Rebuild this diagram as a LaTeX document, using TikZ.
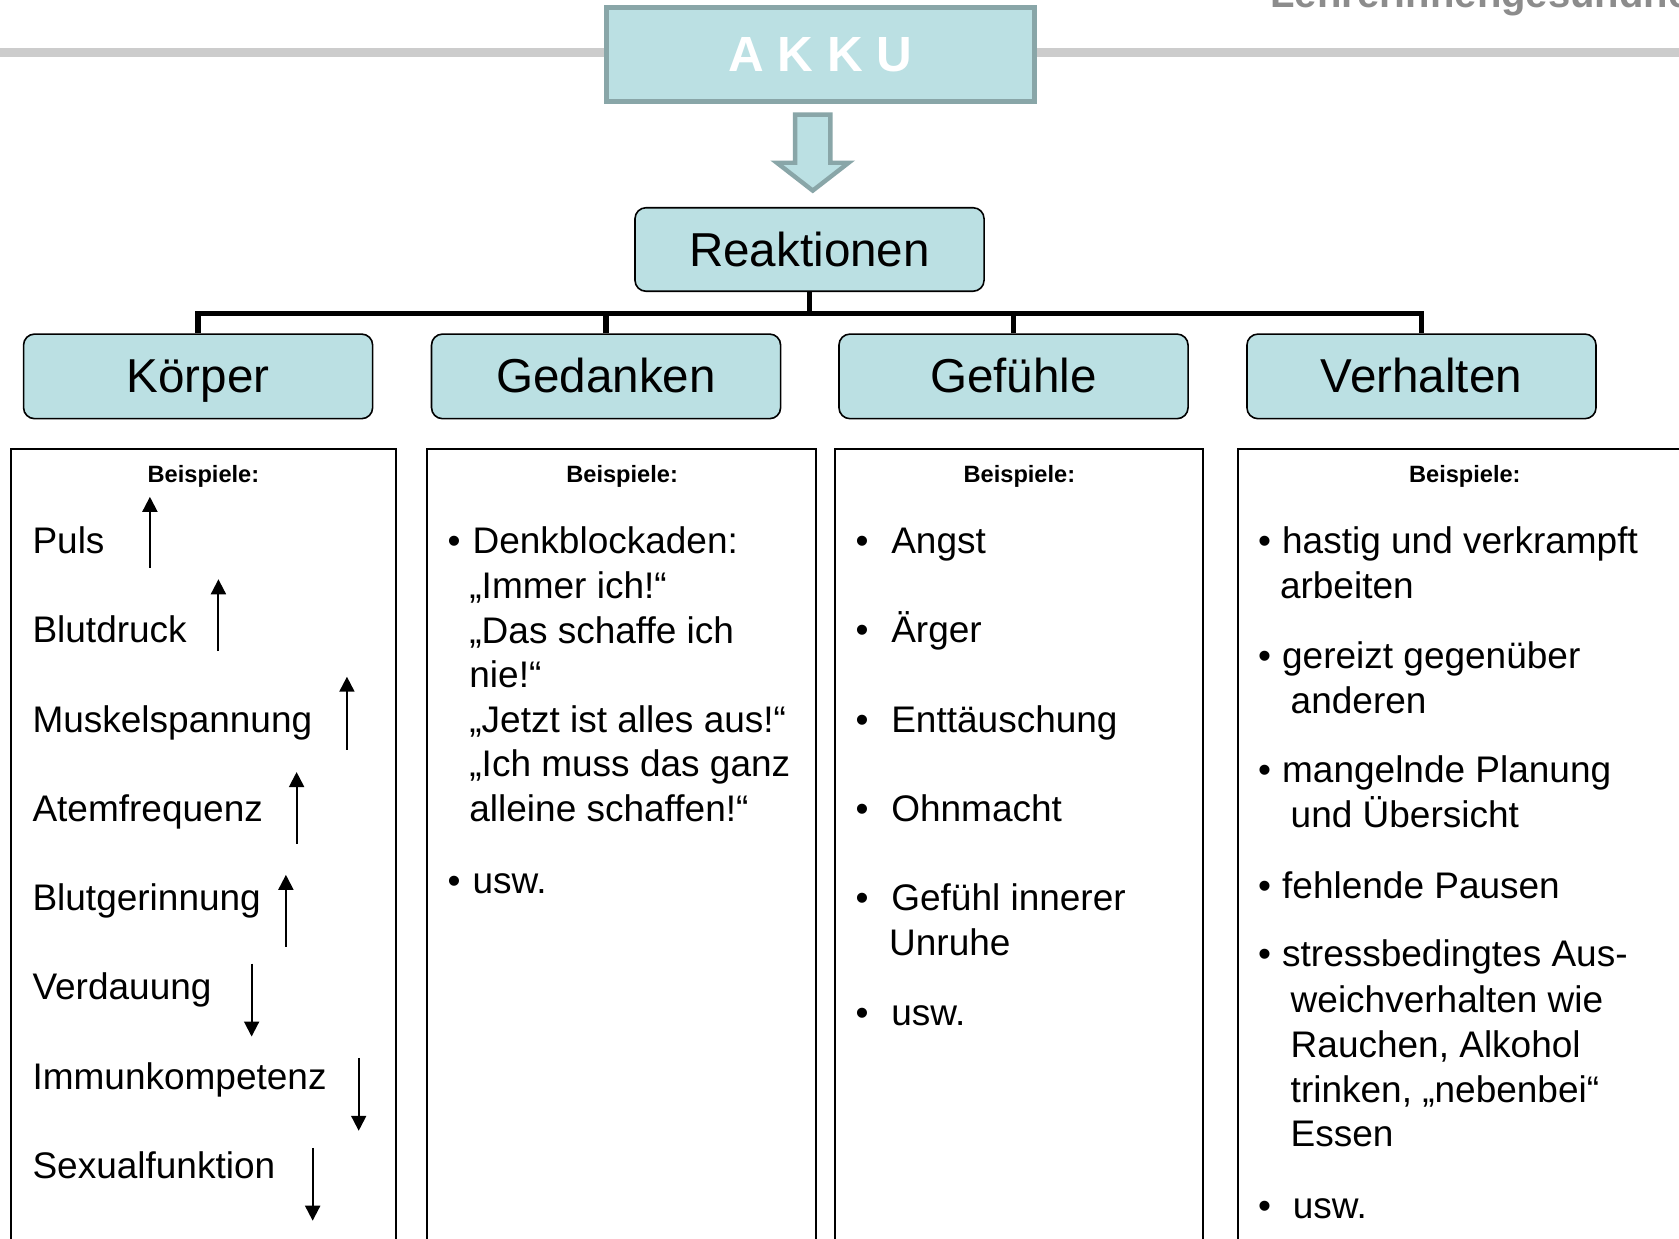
\documentclass[tikz,border=0pt]{standalone}
\usepackage{fontspec}
\setmainfont{Liberation Sans}
\usetikzlibrary{arrows.meta}
\definecolor{boxfill}{RGB}{187,224,227}
\definecolor{akkuborder}{RGB}{137,166,168}
\definecolor{greyline}{RGB}{204,204,204}
\definecolor{titlegrey}{RGB}{140,140,140}
\def\U{0.5354pt}
\begin{document}
\begin{tikzpicture}[x=0.5354pt,y=-0.5354pt,
 hdr/.style={draw=black,line width=0.8pt,fill=boxfill,rounded corners=5.5pt,minimum width=326*\U,minimum height=79*\U,inner sep=0pt,font=\fontsize{23.8}{28}\selectfont,text height=17pt,text depth=0.4pt},
 conn/.style={line width=2.7pt},
 panel/.style={draw=black,line width=1pt},
 bsp/.style={font=\bfseries\fontsize{11.8}{14}\selectfont,anchor=base,inner sep=0pt},
 item/.style={font=\fontsize{18.5}{22}\selectfont,anchor=base west,inner sep=0pt},
 bul/.style={font=\fontsize{18.5}{22}\selectfont,anchor=base,inner sep=0pt},
 updown/.style={line width=1pt,-{Triangle[width=7.5pt,length=7.5pt]}}
]
\useasboundingbox (0,0) rectangle (1568,1157);
\clip (0,0) rectangle (1568,1157);
\fill[white] (0,0) rectangle (1568,1157);
% header line and title
\draw[greyline,line width=4.5pt] (0,49) -- (1568,49);
\node[anchor=base west,inner sep=0pt,text=titlegrey,font=\bfseries\fontsize{20}{24}\selectfont] (title) at (1186,7) {Lehrerinnengesundheit};
% AKKU
\node[draw=akkuborder,line width=2.5pt,fill=boxfill,minimum width=400*\U,minimum height=88*\U,inner sep=0pt,text=white,font=\bfseries\fontsize{24.7}{30}\selectfont] (akku) at (766,51) {A K K U};
% block arrow
\draw[draw=akkuborder,line width=2.2pt,fill=boxfill,line join=miter] (742.5,107) -- (775.5,107) -- (775.5,152) -- (792.5,152) -- (759,178) -- (725.5,152) -- (742.5,152) -- cycle;
% Reaktionen and categories
\node[hdr,minimum height=78*\U] (reak) at (756,233) {Reaktionen};
\node[hdr] (koerper) at (185,351.5) {Körper};
\node[hdr] (gedanken) at (566,351.5) {Gedanken};
\node[hdr] (gefuehle) at (946.5,351.5) {Gefühle};
\node[hdr] (verhalten) at (1327.5,351.5) {Verhalten};
\draw[conn] (reak.south) -- ++(0,20) coordinate (bus);
\draw[conn] (koerper.north) |- (bus) -| (verhalten.north);
\draw[conn] (gedanken.north) -- (gedanken.north |- bus);
\draw[conn] (gefuehle.north) -- (gefuehle.north |- bus);
% panels
\draw[panel] (10,419) rectangle (370,1220);
\draw[panel] (399,419) rectangle (762,1220);
\draw[panel] (780,419) rectangle (1123,1220);
\draw[panel] (1156,419) rectangle (1620,1220);
\node[bsp] (b1) at (190,451) {Beispiele:};
\node[bsp] (b2) at (581,451) {Beispiele:};
\node[bsp] (b3) at (952,451) {Beispiele:};
\node[bsp] (b4) at (1368,451) {Beispiele:};
% Koerper
\node[item] (k1) at (30,517) {Puls};
\node[item] (k2) at (30,600) {Blutdruck};
\node[item] (k3) at (30,684) {Muskelspannung};
\node[item] (k4) at (30,767) {Atemfrequenz};
\node[item] (k5) at (30,850) {Blutgerinnung};
\node[item] (k6) at (30,933) {Verdauung};
\node[item] (k7) at (30,1017) {Immunkompetenz};
\node[item] (k8) at (30,1101) {Sexualfunktion};
\draw[updown] (140,530) -- (140,464);
\draw[updown] (204,608) -- (204,541);
\draw[updown] (324,700) -- (324,632);
\draw[updown] (277,788) -- (277,721);
\draw[updown] (267,884) -- (267,817);
\draw[updown] (235,900) -- (235,968);
\draw[updown] (335,988) -- (335,1056);
\draw[updown] (292,1072) -- (292,1140);
% Gedanken
\node[bul] (gb1) at (424,517) {•};
\node[item] (g1) at (441,517) {Denkblockaden:};
\node[item] (g2) at (438,559) {„Immer ich!“};
\node[item] (g3) at (438,601) {„Das schaffe ich};
\node[item] (g4) at (438,642) {nie!“};
\node[item] (g5) at (438,684) {„Jetzt ist alles aus!“};
\node[item] (g6) at (438,725) {„Ich muss das ganz};
\node[item] (g7) at (438,767) {alleine schaffen!“};
\node[bul] (gb2) at (424,834) {•};
\node[item] (g8) at (441,834) {usw.};
% Gefuehle
\node[bul] (fb1) at (805,517) {•};
\node[item] (f1) at (832,517) {Angst};
\node[bul] (fb2) at (805,600) {•};
\node[item] (f2) at (832,600) {Ärger};
\node[bul] (fb3) at (805,684) {•};
\node[item] (f3) at (832,684) {Enttäuschung};
\node[bul] (fb4) at (805,767) {•};
\node[item] (f4) at (832,767) {Ohnmacht};
\node[bul] (fb5) at (805,850) {•};
\node[item] (f5) at (832,850) {Gefühl innerer};
\node[item] (f6) at (830,892) {Unruhe};
\node[bul] (fb6) at (805,958) {•};
\node[item] (f7) at (832,958) {usw.};
% Verhalten
\node[bul] (vb1) at (1181,517) {•};
\node[item] (v1) at (1197,517) {hastig und verkrampft};
\node[item] (v2) at (1195,559) {arbeiten};
\node[bul] (vb2) at (1181,624) {•};
\node[item] (v3) at (1197,624) {gereizt gegenüber};
\node[item] (v4) at (1205,666) {anderen};
\node[bul] (vb3) at (1181,731) {•};
\node[item] (v5) at (1197,731) {mangelnde Planung};
\node[item] (v6) at (1205,773) {und Übersicht};
\node[bul] (vb4) at (1181,839) {•};
\node[item] (v7) at (1197,839) {fehlende Pausen};
\node[bul] (vb5) at (1181,903) {•};
\node[item] (v8) at (1197,903) {stressbedingtes Aus-};
\node[item] (v9) at (1205,946) {weichverhalten wie};
\node[item] (v10) at (1205,988) {Rauchen, Alkohol};
\node[item] (v11) at (1205,1030) {trinken, „nebenbei“};
\node[item] (v12) at (1205,1071) {Essen};
\node[bul] (vb6) at (1181,1138) {•};
\node[item] (v13) at (1207,1138) {usw.};
\end{tikzpicture}
\end{document}
